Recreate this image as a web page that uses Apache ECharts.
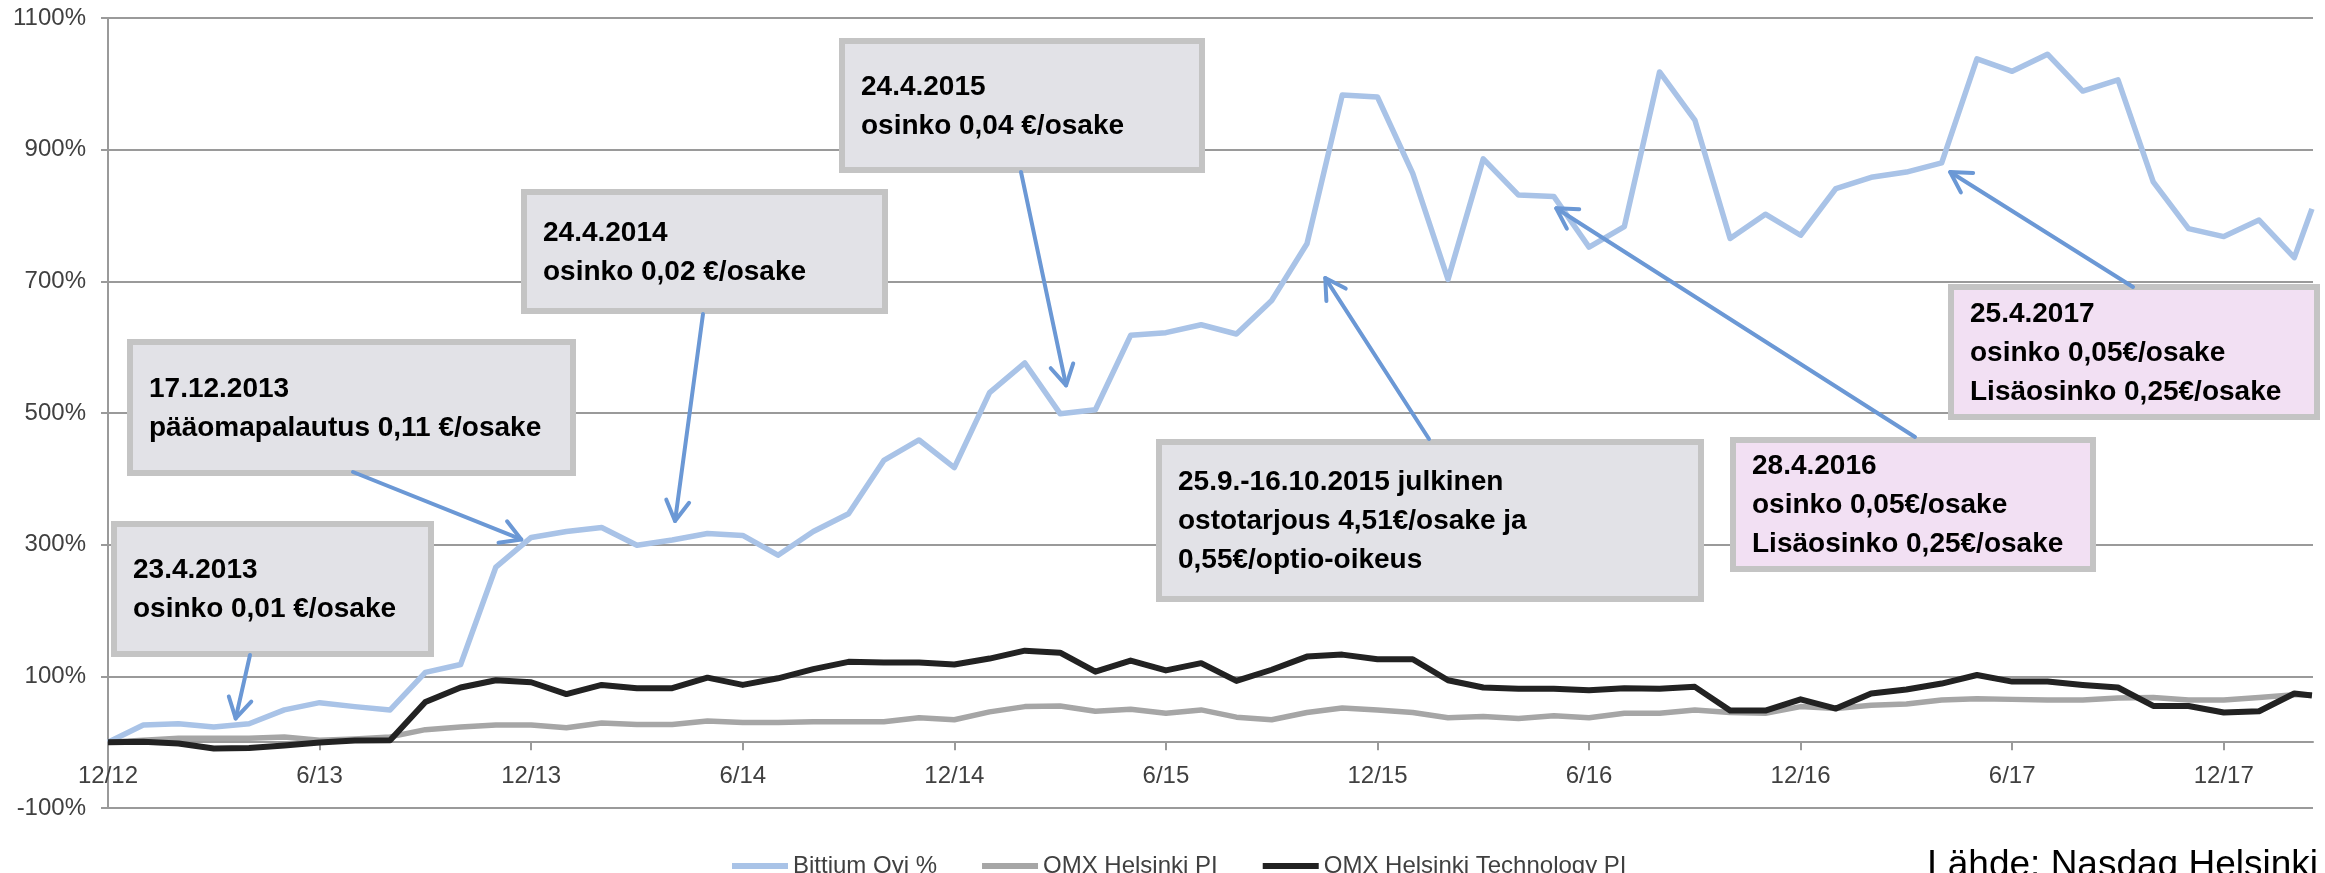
<!DOCTYPE html>
<html>
<head>
<meta charset="utf-8">
<title>Bittium Oyj</title>
<script src="https://cdn.jsdelivr.net/npm/echarts@6/dist/echarts.min.js"></script>
<style>
  html, body { margin: 0; padding: 0; background: #fff; }
  #chart { width: 2325px; height: 873px; }
</style>
</head>
<body>
<div id="chart"></div>
<script>
// kuukausi-indeksi: 0 = 12/2012, viimeinen piste kesken helmikuuta 2018
var months = [0, 1, 2, 3, 4, 5, 6, 7, 8, 9, 10, 11, 12, 13, 14, 15, 16, 17, 18, 19,
    20, 21, 22, 23, 24, 25, 26, 27, 28, 29, 30, 31, 32, 33, 34, 35, 36, 37, 38, 39,
    40, 41, 42, 43, 44, 45, 46, 47, 48, 49, 50, 51, 52, 53, 54, 55, 56, 57, 58, 59,
    60, 61, 62, 62.5];
var tickValues = [0, 6, 12, 18, 24, 30, 36, 42, 48, 54, 60];
var tickLabels = ['12/12', '6/13', '12/13', '6/14', '12/14', '6/15', '12/15', '6/16', '12/16', '6/17', '12/17'];

// kehitys-% lähtötasosta
var bittium = [0, 26, 28, 23, 28, 49, 60, 54, 49, 106, 118, 266, 311, 320, 326, 299, 307, 317, 314, 284,
    320, 347, 428, 459, 417, 531, 576, 499, 505, 618, 622, 634, 620, 671, 757, 983, 980, 864, 703, 886,
    831, 829, 752, 783, 1018, 945, 765, 802, 770, 841, 858, 866, 880, 1038, 1019, 1045, 989, 1006, 851, 780,
    768, 793, 736, 810];
var omxPi = [0, 3, 6, 6, 6, 8, 3, 5, 8, 19, 23, 26, 26, 22, 29, 27, 27, 32, 30, 30,
    31, 31, 31, 37, 34, 46, 54, 55, 47, 50, 44, 49, 38, 34, 45, 52, 49, 45, 37, 39,
    36, 40, 37, 44, 44, 49, 45, 44, 54, 51, 56, 58, 64, 66, 65, 64, 64, 67, 68, 64,
    64, 68, 72, 72];
var omxTech = [0, 0.5, -2, -9.6, -9, -5, -0.5, 2.5, 3, 61, 83, 94, 91, 73, 87, 82, 82, 98, 87, 97,
    111, 122, 121, 121, 118, 127, 139, 136, 107, 124, 109, 120, 93, 110, 130, 133, 126, 126, 94, 83,
    81, 81, 79, 82, 81, 84, 48, 48, 65, 51, 74, 80, 89, 102, 92, 92, 87, 83, 55, 55,
    45, 47, 74, 71];

var seriesNames = ['Bittium Oyj %', 'OMX Helsinki PI', 'OMX Helsinki Technology PI'];

// huomautuslaatikot: box = [x, y, leveys, korkeus] pikseleinä, to = [kuukausi, %]
var notes = [
    {lines: ['23.4.2013', 'osinko 0,01 €/osake'], box: [111, 521, 323, 136], fill: '#e2e2e7', from: [250, 655], to: [3.62, 36]},
    {lines: ['17.12.2013', 'pääomapalautus 0,11 €/osake'], box: [127, 339, 449, 137], fill: '#e2e2e7', from: [353, 472], to: [11.72, 308]},
    {lines: ['24.4.2014', 'osinko 0,02 €/osake'], box: [521, 189, 367, 125], fill: '#e2e2e7', from: [703, 314], to: [16.08, 336]},
    {lines: ['24.4.2015', 'osinko 0,04 €/osake'], box: [839, 38, 366, 135], fill: '#e2e2e7', from: [1021, 172], to: [27.17, 542]},
    {lines: ['25.9.-16.10.2015 julkinen', 'ostotarjous 4,51€/osake ja', '0,55€/optio-oikeus'], box: [1156, 439, 548, 163], fill: '#e2e2e7', from: [1429, 439], to: [34.52, 705]},
    {lines: ['28.4.2016', 'osinko 0,05€/osake', 'Lisäosinko 0,25€/osake'], box: [1730, 437, 366, 135], fill: '#f2e0f3', from: [1915, 437], to: [41.07, 811]},
    {lines: ['25.4.2017', 'osinko 0,05€/osake', 'Lisäosinko 0,25€/osake'], box: [1948, 284, 372, 136], fill: '#f2e0f3', from: [2133, 287], to: [52.24, 866]}
];

var FONT = '"Liberation Sans", Arial, sans-serif';

function pairs(values) {
    return values.map(function (v, i) { return [months[i], v]; });
}

var chart = echarts.init(document.getElementById('chart'));

var option = {
    animation: false,
    textStyle: {fontFamily: FONT},
    grid: {left: 108, right: 12, top: 18, bottom: 65, containLabel: false},
    legend: {
        left: 727,
        top: 849,
        icon: 'rect',
        itemWidth: 56,
        itemHeight: 6,
        itemGap: 45,
        textStyle: {fontSize: 24, color: '#404040', fontFamily: FONT},
        data: seriesNames
    },
    xAxis: {
        type: 'value',
        min: 0,
        max: 62.53,
        interval: 6,
        // akseli nollatasolle: -100% .. 0% = 790 / 12 px
        offset: -65.8,
        axisLine: {show: true, onZero: false, lineStyle: {color: '#9a9a9a', width: 2}},
        axisTick: {show: true, length: 8, customValues: tickValues, lineStyle: {color: '#9a9a9a', width: 2}},
        axisLabel: {
            customValues: tickValues,
            margin: 22,
            fontSize: 24,
            color: '#404040',
            formatter: function (v) {
                var i = tickValues.indexOf(v);
                return i >= 0 ? tickLabels[i] : '';
            }
        },
        splitLine: {show: false}
    },
    yAxis: {
        type: 'value',
        min: -100,
        max: 1100,
        interval: 200,
        axisLine: {show: true, onZero: false, lineStyle: {color: '#9a9a9a', width: 2}},
        axisTick: {show: true, length: 7, lineStyle: {color: '#9a9a9a', width: 2}},
        axisLabel: {
            margin: 22,
            fontSize: 24,
            color: '#404040',
            formatter: function (v) { return v + '%'; }
        },
        splitLine: {show: true, lineStyle: {color: '#9a9a9a', width: 2}}
    },
    series: [
        {
            name: seriesNames[0],
            type: 'line',
            symbol: 'none',
            color: '#a9c3e7',
            lineStyle: {width: 5.5, color: '#a9c3e7', join: 'round'},
            data: pairs(bittium)
        },
        {
            name: seriesNames[1],
            type: 'line',
            symbol: 'none',
            color: '#a6a6a6',
            lineStyle: {width: 5.5, color: '#a6a6a6', join: 'round'},
            data: pairs(omxPi)
        },
        {
            name: seriesNames[2],
            type: 'line',
            symbol: 'none',
            color: '#222222',
            lineStyle: {width: 6, color: '#222222', join: 'round'},
            data: pairs(omxTech)
        }
    ]
};

chart.setOption(option);

/**
 * huomautukset ja nuolet
 */
var graphics = [];
notes.forEach(function (n) {
    var b = n.box;
    graphics.push({
        type: 'rect', z: 100,
        shape: {x: b[0] + 3, y: b[1] + 3, width: b[2] - 6, height: b[3] - 6},
        style: {fill: n.fill, stroke: '#c4c4c4', lineWidth: 6}
    });
    graphics.push({
        type: 'text', z: 101,
        x: b[0] + 22, y: b[1] + b[3] / 2 + 1,
        style: {
            text: n.lines.join('\n'),
            font: 'bold 28px ' + FONT,
            fill: '#000',
            lineHeight: 39,
            align: 'left', textAlign: 'left',
            verticalAlign: 'middle', textVerticalAlign: 'middle'
        }
    });
    var tip = chart.convertToPixel({gridIndex: 0}, n.to);
    var dx = tip[0] - n.from[0], dy = tip[1] - n.from[1];
    var len = Math.sqrt(dx * dx + dy * dy);
    var bx = -dx / len, by = -dy / len;
    var a = Math.PI / 6, L = 23;
    var l1 = [tip[0] + L * (bx * Math.cos(a) - by * Math.sin(a)), tip[1] + L * (bx * Math.sin(a) + by * Math.cos(a))];
    var l2 = [tip[0] + L * (bx * Math.cos(-a) - by * Math.sin(-a)), tip[1] + L * (bx * Math.sin(-a) + by * Math.cos(-a))];
    graphics.push({
        type: 'polyline', z: 102,
        shape: {points: [n.from, tip]},
        style: {stroke: '#6b98d5', lineWidth: 4, lineCap: 'round', fill: null}
    });
    graphics.push({
        type: 'polyline', z: 102,
        shape: {points: [l1, tip, l2]},
        style: {stroke: '#6b98d5', lineWidth: 4, lineCap: 'round', lineJoin: 'round', fill: null}
    });
});
graphics.push({
    type: 'text', z: 101,
    x: 2318, y: 866,
    style: {
        text: 'Lähde: Nasdaq Helsinki',
        font: '37px ' + FONT,
        fill: '#000',
        align: 'right', textAlign: 'right',
        verticalAlign: 'middle', textVerticalAlign: 'middle'
    }
});
chart.setOption({graphic: graphics});
</script>
</body>
</html>
